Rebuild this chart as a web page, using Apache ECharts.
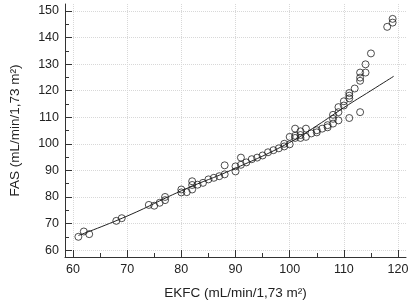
<!DOCTYPE html>
<html lang="en">
<head>
    <meta charset="UTF-8">
    <title>FAS vs EKFC</title>
    <script src="https://cdn.jsdelivr.net/npm/echarts@6/dist/echarts.min.js"></script>
    <style>
        html, body { margin: 0; padding: 0; background: #fff; }
    </style>
</head>
<body>
<div id="main" style="width: 417px;height:305px;"></div>
<script type="text/javascript">
    // measured points (EKFC, FAS)
    var ekfc = [61, 62, 63, 68, 69, 74, 75, 76, 77, 77,
        80, 80, 81, 82, 82, 82, 83, 84, 85, 86,
        87, 88, 88, 90, 90, 91, 91, 92, 93, 94,
        95, 96, 97, 98, 99, 99, 100, 100, 101, 101,
        101, 102, 102, 102, 103, 103, 104, 105, 105, 106,
        107, 107, 108, 108, 108, 109, 109, 109, 110, 110,
        111, 111, 111, 111, 112, 113, 113, 113, 113, 114,
        114, 115, 118, 119, 119];
    var fas = [65, 67, 66, 71, 72, 77, 76.7, 77.8, 78.8, 80,
        81.7, 82.8, 81.8, 82.8, 84.5, 85.9, 84.6, 85.3, 86.6, 87.2,
        87.8, 88.5, 91.9, 89.6, 91.5, 92.1, 94.8, 93, 94.2, 94.8,
        95.6, 96.8, 97.6, 98.3, 99, 100, 99.8, 102.6, 102.2, 103,
        105.7, 102.2, 103.3, 104.7, 102.6, 105.7, 103.9, 104.3, 105.1, 105.7,
        106.2, 107, 107.6, 109.4, 110.9, 108.8, 111.9, 113.8, 114.4, 116,
        109.7, 117.1, 118.1, 119.1, 120.8, 111.9, 123.7, 124.9, 126.8, 126.8,
        129.9, 134, 144, 145.6, 147];

    // fitted curve
    var fitX = [61, 70, 80, 90, 100, 105, 110, 115, 119.2];
    var fitY = [65.5, 72.8, 82.3, 90.8, 100.5, 106.8, 113.6, 120, 125.4];

    var xTicks = [60, 70, 80, 90, 100, 110, 120];
    var xMinor = [65, 75, 85, 95, 105, 115];
    var yTicks = [60, 70, 80, 90, 100, 110, 120, 130, 140, 150];
    var yMinor = [65, 75, 85, 95, 105, 115, 125, 135, 145];

    var points = [];
    for (var i = 0; i < ekfc.length; i++) {
        points.push([ekfc[i], fas[i]]);
    }
    var fitLine = [];
    for (var j = 0; j < fitX.length; j++) {
        fitLine.push([fitX[j], fitY[j]]);
    }

    var font = 'Liberation Sans, Arial, sans-serif';
    var gridLine = { show: true, lineStyle: { color: '#d8d8d8', type: 'dotted', width: 1 } };

    var myChart = echarts.init(document.getElementById('main'));
    myChart.setOption({
        animation: false,
        backgroundColor: '#fff',
        grid: { left: 64, right: 11, top: 4, bottom: 45 },
        xAxis: [{
            type: 'value',
            min: 58.53,
            max: 121.47,
            name: 'EKFC (mL/min/1,73 m\u00b2)',
            nameLocation: 'middle',
            nameGap: 29,
            nameTextStyle: { fontFamily: font, fontSize: 13.5, color: '#222' },
            axisLine: { show: true, lineStyle: { color: '#333', width: 1 } },
            axisTick: { show: true, inside: true, length: 7, customValues: xTicks, lineStyle: { color: '#333' } },
            axisLabel: { customValues: xTicks, margin: 6, fontFamily: font, fontSize: 12.5, color: '#222' },
            splitLine: gridLine
        }, {
            type: 'value',
            position: 'bottom',
            min: 58.53,
            max: 121.47,
            axisLine: { show: false },
            axisTick: { show: true, inside: true, length: 4, customValues: xMinor, lineStyle: { color: '#333' } },
            axisLabel: { show: false },
            splitLine: { show: false }
        }],
        yAxis: [{
            type: 'value',
            min: 57.4,
            max: 152.6,
            name: 'FAS (mL/min/1,73 m\u00b2)',
            nameLocation: 'middle',
            nameGap: 43,
            nameTextStyle: { fontFamily: font, fontSize: 13.5, color: '#222' },
            axisLine: { show: true, lineStyle: { color: '#333', width: 1 } },
            axisTick: { show: true, inside: true, length: 7, customValues: yTicks, lineStyle: { color: '#333' } },
            axisLabel: { customValues: yTicks, margin: 6, fontFamily: font, fontSize: 12.5, color: '#222' },
            splitLine: gridLine
        }, {
            type: 'value',
            position: 'left',
            min: 57.4,
            max: 152.6,
            axisLine: { show: false },
            axisTick: { show: true, inside: true, length: 4, customValues: yMinor, lineStyle: { color: '#333' } },
            axisLabel: { show: false },
            splitLine: { show: false }
        }],
        series: [{
            name: 'points',
            type: 'scatter',
            xAxisIndex: 0,
            yAxisIndex: 0,
            symbol: 'circle',
            symbolSize: 7,
            itemStyle: { color: 'rgba(255,255,255,0)', borderColor: '#222', borderWidth: 1 },
            data: points
        }, {
            name: 'fit',
            type: 'line',
            xAxisIndex: 0,
            yAxisIndex: 0,
            smooth: true,
            showSymbol: false,
            lineStyle: { color: '#222', width: 1 },
            data: fitLine
        }]
    });
</script>
</body>
</html>
